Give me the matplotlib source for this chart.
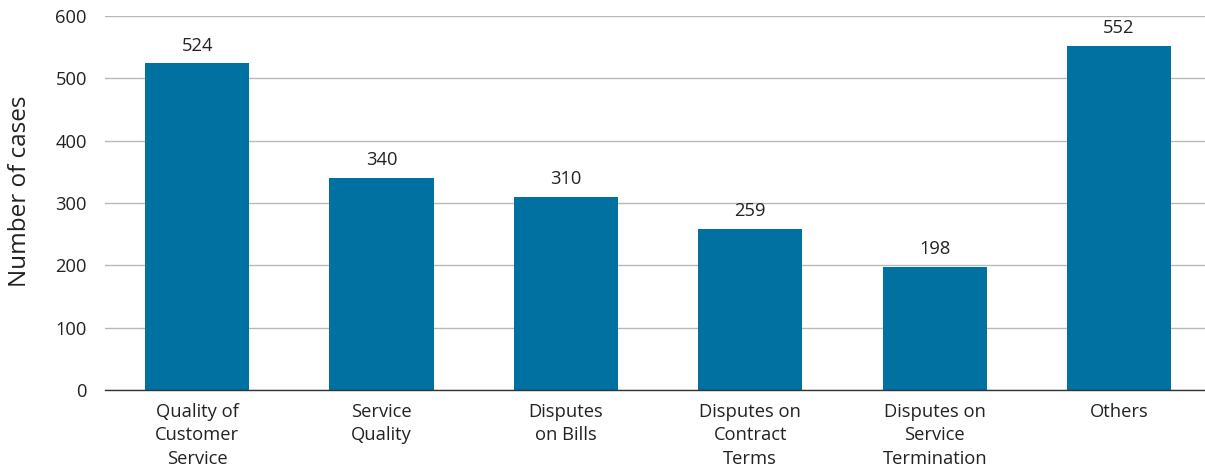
import matplotlib
matplotlib.use("Agg")
from matplotlib import pyplot as plt

categories = ["Quality of\nCustomer\nService", "Service\nQuality", "Disputes\non Bills",
              "Disputes on\nContract\nTerms", "Disputes on\nService\nTermination", "Others"]
cases = [524, 340, 310, 259, 198, 552]
yticks = [0, 100, 200, 300, 400, 500, 600]

plt.rcParams['font.family'] = ['Open Sans', 'DejaVu Sans']

fig = plt.figure(figsize=(12.05, 4.70), dpi=100)
ax = fig.add_axes([0.0871, 0.170, 0.9129, 0.796])

x = list(range(len(categories)))
bars = ax.bar(x, cases, width=0.565, color='#0071a1', zorder=3)
for b, v in zip(bars, cases):
    ax.text(b.get_x() + b.get_width() / 2, v + 14, str(v), ha='center', va='bottom',
            fontsize=13.2, color='#222222')

ax.set_xlim(-0.5, 5.466)
ax.set_ylim(0, 600)
ax.set_yticks(yticks)
ax.set_xticks(x)
ax.set_xticklabels(categories, fontsize=13.2, color='#222222', linespacing=1.42)
ax.tick_params(axis='y', labelsize=13.2, colors='#222222', length=0, pad=13)
ax.tick_params(axis='x', length=0, pad=9)
ax.set_ylabel("Number of cases", fontsize=17.5, color='#222222')
ax.yaxis.set_label_coords(-0.066, 0.531)

ax.grid(axis='y', color='#b8b8b8', linewidth=1.0, zorder=0)
for s in ['top', 'right', 'left']:
    ax.spines[s].set_visible(False)
ax.spines['bottom'].set_color('#333333')
ax.spines['bottom'].set_linewidth(1.0)
ax.spines['bottom'].set_zorder(4)

fig.savefig("out.png", dpi=100)
